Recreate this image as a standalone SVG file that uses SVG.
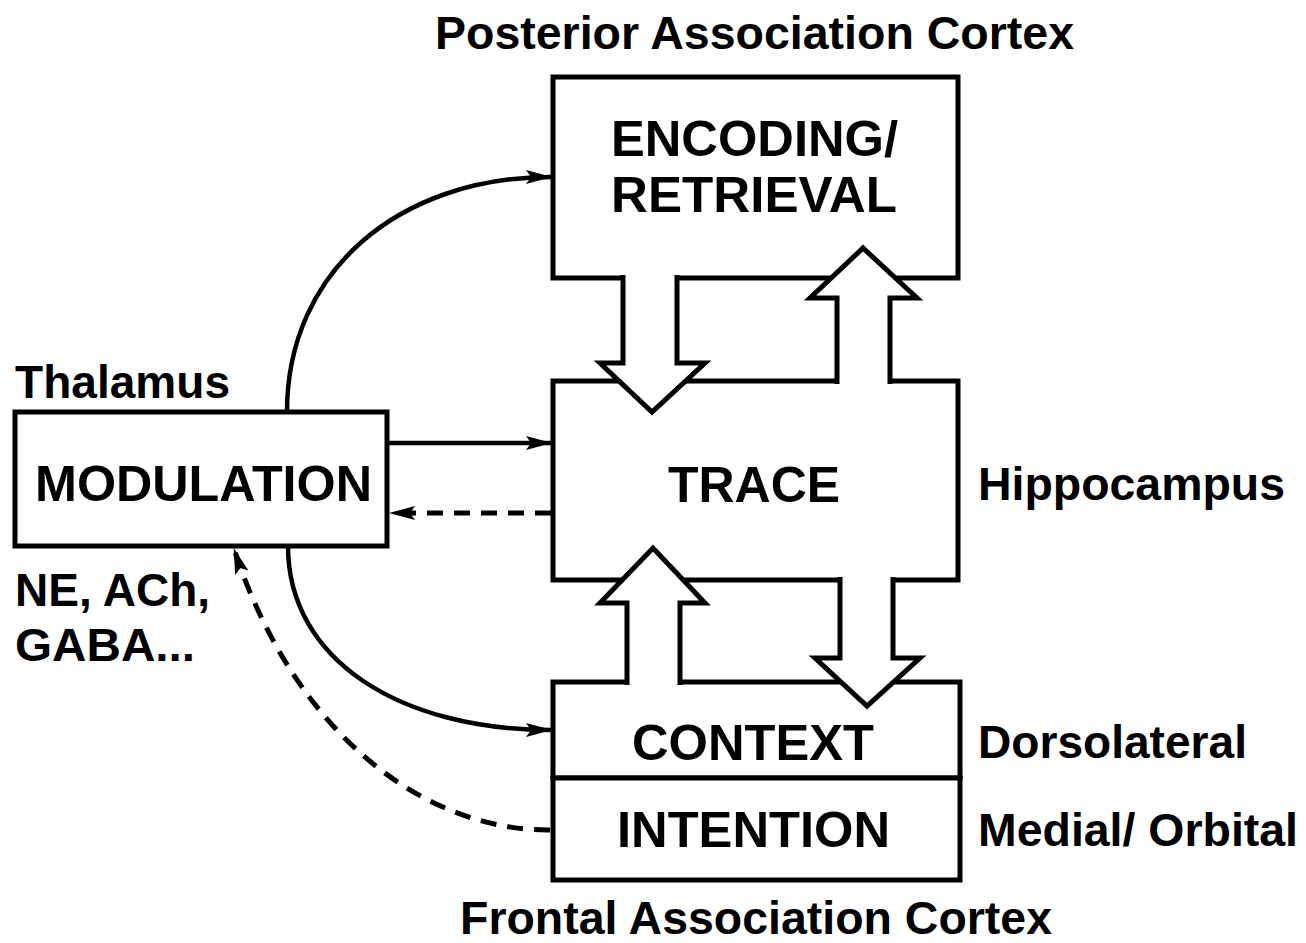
<svg xmlns="http://www.w3.org/2000/svg" width="1306" height="943" viewBox="0 0 1306 943">
<style>
.box{fill:#fff;stroke:#000;stroke-width:5}
.big{fill:#fff;stroke:#000;stroke-width:5;stroke-linejoin:miter}
.ln{fill:none;stroke:#000;stroke-width:4.5}
.dash{fill:none;stroke:#000;stroke-width:5;stroke-dasharray:16 11}
.bl{font-family:"Liberation Sans",Arial,sans-serif;font-weight:bold;font-size:50px;fill:#000}
.lb{font-family:"Liberation Sans",Arial,sans-serif;font-weight:bold;font-size:46px;fill:#000}
</style>
<defs>
<marker id="ah" viewBox="0 0 26 16" refX="25" refY="8" markerWidth="26" markerHeight="16" markerUnits="userSpaceOnUse" orient="auto">
<path d="M0,1 L26,8 L0,15 L5,8 Z" fill="#000"/>
</marker>
</defs>
<rect width="1306" height="943" fill="#fff"/>

<g id="labels">
<text class="lb" x="435" y="49" textLength="639" lengthAdjust="spacingAndGlyphs">Posterior Association Cortex</text>
<text class="lb" x="460" y="934" textLength="592" lengthAdjust="spacingAndGlyphs">Frontal Association Cortex</text>
<text class="lb" x="15" y="398" textLength="215" lengthAdjust="spacingAndGlyphs">Thalamus</text>
<text class="lb" x="15" y="606" textLength="195" lengthAdjust="spacingAndGlyphs">NE, ACh,</text>
<text class="lb" x="15" y="661" textLength="180" lengthAdjust="spacingAndGlyphs">GABA...</text>
<text class="lb" x="978" y="500" textLength="307" lengthAdjust="spacingAndGlyphs">Hippocampus</text>
<text class="lb" x="978" y="758" textLength="269" lengthAdjust="spacingAndGlyphs">Dorsolateral</text>
<text class="lb" x="978" y="846" textLength="320" lengthAdjust="spacingAndGlyphs">Medial/ Orbital</text>
</g>

<g id="encoding">
<rect class="box" x="553" y="77" width="405" height="201"/>
<text class="bl" x="611" y="156" textLength="287" lengthAdjust="spacingAndGlyphs">ENCODING/</text>
<text class="bl" x="611" y="212" textLength="286" lengthAdjust="spacingAndGlyphs">RETRIEVAL</text>
</g>

<g id="trace">
<rect class="box" x="553" y="381" width="405" height="199"/>
<text class="bl" x="668" y="502" textLength="172" lengthAdjust="spacingAndGlyphs">TRACE</text>
</g>

<g id="modulation">
<rect class="box" x="15" y="412" width="372" height="134"/>
<text class="bl" x="35" y="501" textLength="337" lengthAdjust="spacingAndGlyphs">MODULATION</text>
</g>

<g id="context">
<rect class="box" x="553" y="682" width="407" height="96"/>
<text class="bl" x="632" y="760" textLength="242" lengthAdjust="spacingAndGlyphs">CONTEXT</text>
</g>

<g id="intention">
<rect class="box" x="553" y="778" width="407" height="102"/>
<text class="bl" x="617" y="847" textLength="273" lengthAdjust="spacingAndGlyphs">INTENTION</text>
</g>

<g id="connectors">
<path class="big" d="M623,275 L623,363 L600,363 L652,412 L705,363 L677,363 L677,275"/>
<path class="big" d="M837,384 L837,298 L810,298 L863,248 L917,298 L890,298 L890,384"/>
<path class="big" d="M627,685 L627,603 L600,603 L653,548 L705,603 L680,603 L680,685"/>
<path class="big" d="M840,577 L840,658 L815,658 L867,706 L920,658 L893,658 L893,577"/>
<path class="ln" d="M287,412 C287,270 400,177 551,177" marker-end="url(#ah)"/>
<path class="ln" d="M288,546 C288,660 400,730 551,730" marker-end="url(#ah)"/>
<path class="ln" d="M389,443 L551,443" marker-end="url(#ah)"/>
<path class="dash" d="M551,513 L390,513" marker-end="url(#ah)"/>
<path class="dash" d="M550,830 C425,831 295,735 234,549" marker-end="url(#ah)"/>
</g>
</svg>
